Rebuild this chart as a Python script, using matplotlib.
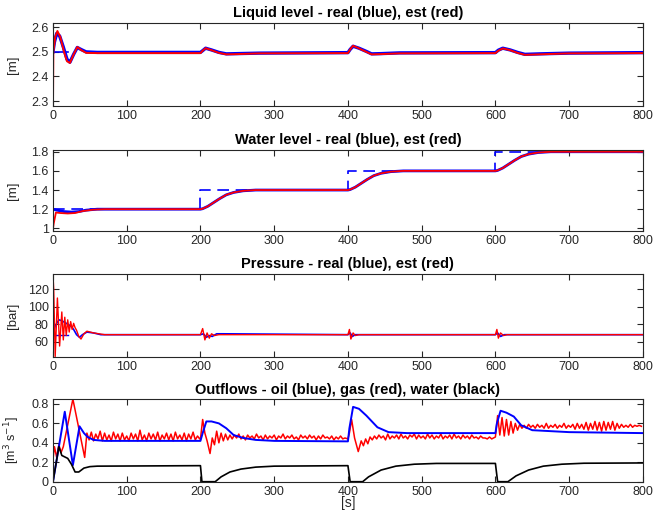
import numpy as np
import matplotlib.pyplot as plt

plt.rcParams['font.family'] = ['Liberation Sans', 'DejaVu Sans']

# ---- liquid level ----
level_sp = 2.5
level_real_t = [0, 2, 5, 9, 14, 19, 23, 28, 33, 38, 45, 60, 200, 203, 207, 215, 225, 235, 250, 280,
                400, 403, 407, 415, 425, 432, 445, 470, 600, 604, 610, 620, 630, 640, 660, 700, 800]
level_real = [2.5, 2.54, 2.575, 2.565, 2.52, 2.47, 2.458, 2.49, 2.518, 2.51, 2.5, 2.498, 2.498, 2.505,
              2.515, 2.508, 2.498, 2.492, 2.493, 2.495, 2.497, 2.51, 2.523, 2.515, 2.502, 2.492, 2.493,
              2.496, 2.497, 2.507, 2.515, 2.508, 2.498, 2.49, 2.492, 2.495, 2.497]
level_est_t = [0, 0.5, 3, 6, 10, 15, 19, 23, 28, 33, 38, 45, 60, 200, 203, 207, 215, 225, 235, 250, 280,
               400, 403, 407, 415, 425, 432, 445, 470, 600, 604, 610, 620, 630, 640, 660, 700, 800]
level_est = [2.28, 2.5, 2.56, 2.585, 2.56, 2.5, 2.462, 2.455, 2.49, 2.52, 2.508, 2.496, 2.495, 2.495, 2.505,
             2.515, 2.507, 2.496, 2.49, 2.491, 2.494, 2.495, 2.51, 2.525, 2.514, 2.5, 2.49, 2.491, 2.494,
             2.495, 2.505, 2.514, 2.507, 2.496, 2.488, 2.49, 2.494, 2.495]

# ---- water level ----
water_sp_t = [0, 200, 200, 400, 400, 600, 600, 800]
water_sp = [1.2, 1.2, 1.4, 1.4, 1.6, 1.6, 1.8, 1.8]
water_real_t = [0, 5, 15, 25, 35, 45, 60, 200, 203, 210, 218, 226, 235, 245, 258, 275,
                400, 403, 410, 418, 426, 435, 445, 458, 475, 600, 603, 610, 618, 626, 635, 645, 658, 675, 800]
water_real = [1.2, 1.19, 1.175, 1.17, 1.175, 1.19, 1.2, 1.2, 1.205, 1.23, 1.27, 1.31, 1.35, 1.375, 1.392, 1.4,
              1.4, 1.405, 1.43, 1.47, 1.51, 1.55, 1.575, 1.592, 1.6, 1.6, 1.605, 1.63, 1.67, 1.71, 1.75,
              1.775, 1.792, 1.8, 1.8]
water_est_t = [0, 1, 4, 10, 20, 30, 40, 55, 70, 200, 203, 210, 218, 226, 235, 245, 258, 275,
               400, 403, 410, 418, 426, 435, 445, 458, 475, 600, 603, 610, 618, 626, 635, 645, 658, 675, 800]
water_est = [1.0, 1.05, 1.165, 1.16, 1.155, 1.16, 1.18, 1.195, 1.2, 1.2, 1.205, 1.23, 1.27, 1.31, 1.35, 1.375,
             1.392, 1.4, 1.4, 1.405, 1.43, 1.47, 1.51, 1.55, 1.575, 1.592, 1.6, 1.6, 1.605, 1.63, 1.67, 1.71,
             1.75, 1.775, 1.792, 1.8, 1.8]

# ---- pressure ----
pressure_sp = 68
pressure_real_t = [0, 3, 8, 12, 18, 24, 28, 32, 36, 40, 46, 55, 65, 200, 204, 208, 212, 216, 222, 230,
                   400, 403, 406, 410, 415, 600, 603, 607, 612, 800]
pressure_real = [68, 78, 85, 84, 81, 78, 74, 68, 65, 68, 71, 70, 68, 68, 69, 65, 67, 66, 69, 69,
                 68, 70, 66, 68, 68, 68, 70, 66, 68, 68]
pressure_est_t = [0, 1, 3, 6, 9, 12, 14, 16, 18, 20, 22, 24, 26, 28, 30, 32, 35, 38, 42, 46, 55, 70,
                  200, 203, 206, 209, 212, 215, 219, 225, 400, 402, 404, 407, 410, 415,
                  600, 602, 604, 607, 611, 616, 800]
pressure_est = [137, 120, 43, 110, 55, 94, 62, 88, 67, 85, 71, 83, 74, 81, 76, 73, 66, 63, 69, 72, 70, 68,
                68, 75, 62, 70, 64, 69, 67, 68, 68, 74, 63, 70, 67, 68,
                68, 74, 64, 70, 67, 68, 68]

# ---- outflows ----
oil_t = [0, 16, 27, 36, 42, 47, 55, 70, 200, 203, 208, 215, 225, 235, 245, 258, 275, 300,
         400, 402, 407, 415, 425, 440, 455, 480, 600, 602, 607, 615, 625, 635, 650, 700, 800]
oil = [0, 0.72, 0.17, 0.57, 0.5, 0.46, 0.43, 0.42, 0.42, 0.5, 0.62, 0.62, 0.6, 0.55, 0.48, 0.45, 0.43, 0.42,
       0.415, 0.55, 0.77, 0.75, 0.68, 0.56, 0.51, 0.5, 0.5, 0.6, 0.73, 0.71, 0.67, 0.58, 0.53, 0.51, 0.5]

water_out_t = [0, 8, 12, 20, 25, 30, 35, 42, 50, 60, 200, 202, 220, 228, 240, 255, 275, 300, 400,
               403, 420, 428, 445, 465, 490, 520, 600, 603, 617, 628, 645, 665, 690, 720, 800]
water_out = [0, 0.36, 0.27, 0.24, 0.18, 0.1, 0.1, 0.14, 0.155, 0.16, 0.165, 0, 0, 0.05, 0.1, 0.13, 0.15,
             0.16, 0.165, 0, 0, 0.05, 0.12, 0.16, 0.18, 0.188, 0.188, 0, 0, 0.06, 0.12, 0.16, 0.18,
             0.19, 0.193]

gas_start_t = [0, 2, 5, 8, 11, 14, 27, 43]
gas_start = [0.23, 0.36, 0.25, 0.38, 0.3, 0.36, 0.85, 0.25]
gas_a = [0.50, 0.43, 0.51, 0.42, 0.49, 0.44, 0.52, 0.42, 0.50, 0.43, 0.48, 0.42, 0.51, 0.44, 0.49, 0.42,
         0.50, 0.43, 0.47, 0.42, 0.50, 0.44, 0.49, 0.42, 0.53, 0.43, 0.48, 0.42, 0.50, 0.44, 0.49, 0.43,
         0.51, 0.42, 0.48, 0.44, 0.50, 0.43, 0.49, 0.42, 0.51, 0.44, 0.48, 0.43, 0.50, 0.42, 0.49, 0.44,
         0.51, 0.43, 0.47, 0.44]
gas_b_t = [200, 203, 206, 209, 213, 216, 219, 222, 225, 228, 231, 234, 237, 240]
gas_b = [0.44, 0.64, 0.5, 0.42, 0.29, 0.45, 0.38, 0.52, 0.4, 0.5, 0.42, 0.49, 0.43, 0.48]
gas_c = [0.44, 0.48, 0.45, 0.49, 0.44, 0.47, 0.43, 0.48, 0.45, 0.47, 0.44, 0.49, 0.45, 0.47, 0.43, 0.48,
         0.44, 0.47, 0.45, 0.48, 0.43, 0.47, 0.45, 0.49, 0.44, 0.47, 0.45, 0.48, 0.44, 0.46, 0.43, 0.48,
         0.45, 0.47, 0.44, 0.48, 0.45, 0.47, 0.43, 0.47, 0.44, 0.48, 0.45, 0.46, 0.44, 0.47, 0.43, 0.46,
         0.44, 0.47, 0.44, 0.45]
gas_d_t = [400, 402, 405, 409, 414, 418, 421, 424, 427, 430]
gas_d = [0.44, 0.5, 0.64, 0.45, 0.31, 0.42, 0.37, 0.44, 0.39, 0.46]
gas_e = [0.43, 0.47, 0.44, 0.48, 0.45, 0.47, 0.43, 0.49, 0.44, 0.47, 0.45, 0.48, 0.44, 0.49, 0.45, 0.47,
         0.44, 0.48, 0.46, 0.49, 0.44, 0.48, 0.45, 0.47, 0.44, 0.49, 0.45, 0.48, 0.44, 0.47, 0.45, 0.49,
         0.44, 0.47, 0.45, 0.48, 0.44, 0.49, 0.45, 0.47, 0.44, 0.48, 0.45, 0.47, 0.44, 0.48, 0.45, 0.46,
         0.44, 0.47, 0.45, 0.45, 0.44, 0.46, 0.44]
gas_f_t = [600, 603, 606, 609, 612, 615, 618, 621, 624, 627, 630, 633, 636]
gas_f = [0.46, 0.68, 0.48, 0.66, 0.47, 0.64, 0.48, 0.62, 0.5, 0.6, 0.53, 0.59, 0.55]
gas_g = [0.58, 0.55, 0.59, 0.56, 0.58, 0.55, 0.59, 0.56, 0.58, 0.55, 0.6, 0.55, 0.58, 0.56, 0.59, 0.55,
         0.58, 0.56, 0.6, 0.55, 0.58, 0.56, 0.59, 0.54, 0.6, 0.55, 0.59, 0.54, 0.61, 0.53, 0.6, 0.54,
         0.62, 0.53, 0.61, 0.52, 0.62, 0.53, 0.61, 0.54, 0.62, 0.53, 0.6, 0.55, 0.59, 0.56, 0.58, 0.56,
         0.59, 0.56, 0.58, 0.57, 0.58, 0.57]

gas_t = (gas_start_t + list(46 + 3 * np.arange(len(gas_a))) + gas_b_t
         + list(243 + 3 * np.arange(len(gas_c))) + gas_d_t
         + list(433 + 3 * np.arange(len(gas_e))) + gas_f_t
         + list(639 + 3 * np.arange(len(gas_g))))
gas = gas_start + gas_a + gas_b + gas_c + gas_d + gas_e + gas_f + gas_g

xticks = list(range(0, 801, 100))
axcol = '#262626'

fig = plt.figure(figsize=(6.54, 5.22), dpi=100)
left, width = 0.081, 0.902
boxes = [(0.7975, 0.1584), (0.558, 0.1546), (0.3167, 0.1584), (0.0772, 0.1579)]
axes = [fig.add_axes([left, b, width, h]) for b, h in boxes]

ax = axes[0]
ax.plot([0, 20], [level_sp, level_sp], color='#0000ff', lw=1.2)
ax.plot(level_real_t, level_real, color='#0000ff', lw=2.4)
ax.plot(level_est_t, level_est, color='#ff0000', lw=1.4)
ax.set_ylim(2.281, 2.6175)
ax.set_yticks([2.3, 2.4, 2.5, 2.6])
ax.set_ylabel('[m]')
ax.set_title('Liquid level - real (blue), est (red)')

ax = axes[1]
ax.plot(water_sp_t, water_sp, color='#0000ff', lw=1.2, dashes=(7, 4))
ax.plot(water_real_t, water_real, color='#0000ff', lw=2.0)
ax.plot(water_est_t, water_est, color='#ff0000', lw=1.3)
ax.set_ylim(0.975, 1.818)
ax.set_yticks([1, 1.2, 1.4, 1.6, 1.8])
ax.set_yticklabels(['1', '1.2', '1.4', '1.6', '1.8'])
ax.set_ylabel('[m]')
ax.set_title('Water level - real (blue), est (red)')

ax = axes[2]
ax.plot([0, 20], [pressure_sp, pressure_sp], color='#0000ff', lw=1.0)
ax.plot(pressure_real_t, pressure_real, color='#0000ff', lw=1.2)
ax.plot(pressure_est_t, pressure_est, color='#ff0000', lw=1.0)
ax.set_ylim(42.8, 137.5)
ax.set_yticks([60, 80, 100, 120])
ax.set_ylabel('[bar]')
ax.set_title('Pressure - real (blue), est (red)')

ax = axes[3]
ax.plot(gas_t, gas, color='#ff0000', lw=1.1)
ax.plot(oil_t, oil, color='#0000ff', lw=1.4)
ax.plot(water_out_t, water_out, color='black', lw=1.2)
ax.set_ylim(0, 0.848)
ax.set_yticks([0, 0.2, 0.4, 0.6, 0.8])
ax.set_yticklabels(['0', '0.2', '0.4', '0.6', '0.8'])
ax.set_ylabel('[m$^{3}$ s$^{-1}$]')
ax.set_title('Outflows - oil (blue), gas (red), water (black)')
ax.set_xlabel('[s]', fontsize=10, color=axcol, labelpad=-1)

for ax in axes:
    ax.set_xlim(0, 800)
    ax.set_xticks(xticks)
    ax.tick_params(direction='in', top=True, right=True, length=4, width=0.8,
                   labelsize=9, colors=axcol, pad=3)
    for s in ax.spines.values():
        s.set_color(axcol)
        s.set_linewidth(0.8)
    ax.set_title(ax.get_title(), fontsize=10.5, fontweight='bold', color='black', pad=4)
    ax.yaxis.label.set_fontsize(9.5)
    ax.yaxis.label.set_color(axcol)
    ax.yaxis.set_label_coords(-0.058, 0.5)

axes[3].yaxis.label.set_fontsize(9)
axes[3].yaxis.set_label_coords(-0.052, 0.5)

fig.savefig('out.png', dpi=100)
